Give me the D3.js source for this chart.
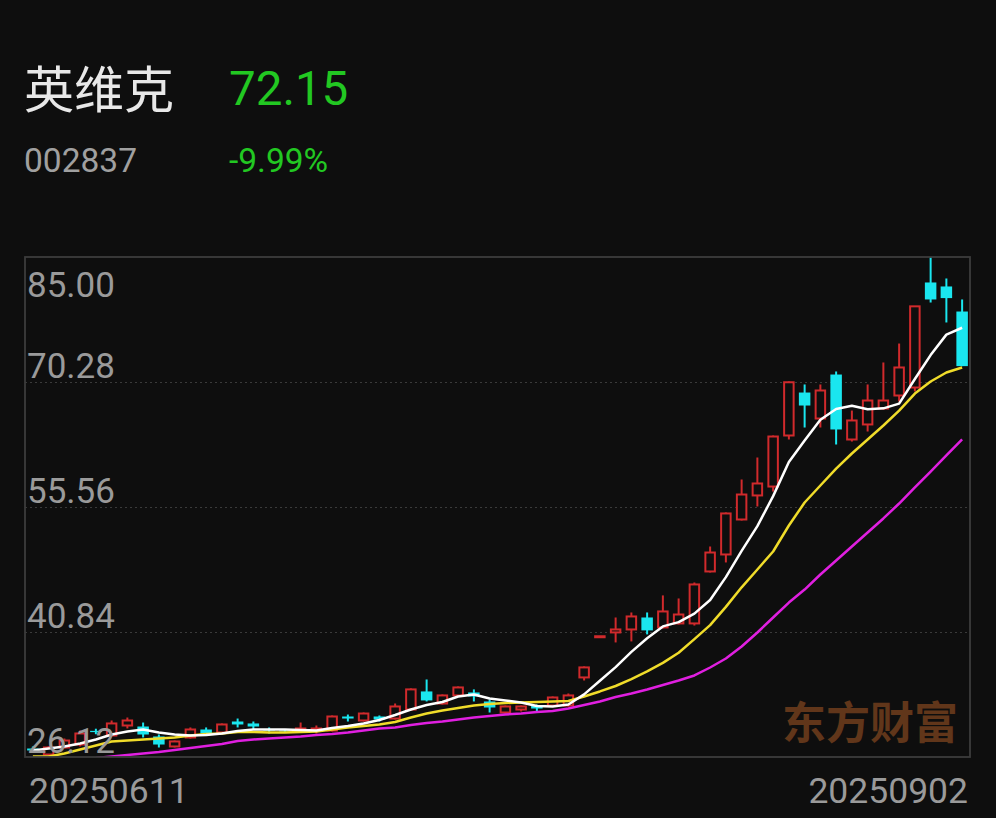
<!DOCTYPE html>
<html><head><meta charset="utf-8">
<script src="https://cdn.jsdelivr.net/npm/d3@7"></script>
<style>html,body{margin:0;padding:0;background:#0e0e0e;} svg{display:block;}</style>
</head><body>
<svg id="c" width="996" height="818"></svg>
<script>
const dates = ["20250611","20250612","20250613","20250616","20250617","20250618","20250619","20250620","20250623","20250624","20250625","20250626","20250627","20250630",
"20250701","20250702","20250703","20250704","20250707","20250708","20250709","20250710","20250711","20250714","20250715","20250716","20250717","20250718","20250721","20250722","20250723","20250724","20250725","20250728","20250729","20250730","20250731",
"20250801","20250804","20250805","20250806","20250807","20250808","20250811","20250812","20250813","20250814","20250815","20250818","20250819","20250820","20250821","20250822","20250825","20250826","20250827","20250828","20250829",
"20250901","20250902"];
const open  = [27.12,26.41,27.24,27.59,29.20,28.65,29.83,29.71,28.54,27.36,28.42,29.36,29.01,30.30,30.07,29.36,29.24,29.36,29.24,29.24,30.89,30.42,30.89,30.65,31.71,33.84,32.42,33.37,33.72,32.66,31.36,31.71,32.18,32.18,32.18,35.49,40.34,40.79,41.14,42.55,41.38,41.85,41.85,47.97,49.97,54.09,56.92,57.97,63.98,69.04,65.98,71.16,63.51,65.28,67.16,68.69,69.63,82.00,81.53,78.58];
const high  = [27.36,27.40,28.30,29.24,29.45,30.42,30.77,30.18,28.77,28.06,29.60,29.60,30.07,30.65,30.30,29.60,29.36,30.18,29.83,31.01,31.12,31.36,31.01,32.42,34.20,35.25,33.49,34.43,34.08,32.89,32.18,32.18,32.30,33.25,33.60,36.79,40.34,42.55,43.14,43.14,45.15,44.79,46.67,50.91,54.92,58.80,61.39,63.98,70.34,69.99,69.99,71.52,66.92,69.99,72.58,74.81,79.19,85.00,82.47,80.00];
const low   = [26.65,26.12,27.12,27.36,28.80,28.54,29.48,28.42,27.24,27.24,28.30,28.65,28.89,29.60,29.36,28.89,29.01,29.13,28.89,29.13,30.30,30.30,30.30,30.54,31.60,32.66,32.30,33.25,32.66,31.36,31.24,31.48,31.48,32.07,32.07,35.13,40.34,39.61,39.73,40.56,41.26,41.73,41.60,47.85,49.03,53.97,55.62,57.38,63.51,64.92,64.92,62.92,63.27,64.45,67.04,67.98,69.17,79.64,77.29,72.15];
const close = [26.89,27.24,28.06,28.89,29.05,30.07,30.42,28.77,27.59,27.95,29.36,28.89,29.95,29.95,29.71,29.24,29.13,29.48,29.48,30.89,30.65,31.24,30.54,32.07,34.08,32.78,33.37,34.31,33.25,31.95,32.07,32.07,31.83,33.13,33.37,36.67,40.34,41.14,42.67,41.03,43.26,42.90,46.44,50.20,54.80,57.03,58.33,63.86,70.25,67.51,69.28,64.69,65.75,68.10,68.10,71.99,79.19,80.00,80.16,72.15];
const ma5  = [26.89,27.12,27.36,27.71,28.18,28.77,29.12,29.36,29.01,28.77,28.65,28.71,28.89,29.18,29.36,29.36,29.36,29.30,29.24,29.54,29.77,30.07,30.48,31.07,31.71,32.24,32.60,33.25,33.48,33.01,32.77,32.54,32.13,32.07,32.30,33.50,35.10,36.70,38.50,40.10,41.50,42.00,43.00,44.60,47.30,50.40,53.30,56.84,60.85,63.39,65.84,67.11,67.49,67.07,67.18,67.73,70.63,73.45,75.86,76.67];
const ma10 = [26.18,26.18,26.53,27.00,27.48,27.95,28.07,28.18,28.30,28.42,28.65,28.83,28.89,29.07,29.07,29.01,29.01,29.07,29.13,29.36,29.60,29.77,29.95,30.24,30.77,31.24,31.60,31.89,32.18,32.36,32.48,32.54,32.60,32.66,32.72,33.25,33.84,34.48,35.30,36.20,37.20,38.40,40.00,41.65,43.80,46.10,48.20,50.32,53.38,56.09,58.09,60.09,61.86,63.51,65.16,66.92,68.92,70.34,71.40,71.99];
const ma20 = [25.47,25.59,25.71,25.89,26.00,26.18,26.36,26.53,26.71,26.95,27.18,27.42,27.65,28.01,28.18,28.30,28.42,28.54,28.71,28.83,29.01,29.24,29.48,29.60,29.89,30.12,30.30,30.54,30.77,30.95,31.13,31.24,31.42,31.54,31.83,32.24,32.66,33.19,33.60,34.07,34.60,35.13,35.72,36.66,37.72,39.13,40.78,42.55,44.31,45.84,47.61,49.26,50.91,52.56,54.21,55.97,57.86,59.74,61.63,63.51];
const yTicks = [85.00, 70.28, 55.56, 40.84, 26.12];
const xTickLabels = ["20250611", "20250902"];
const stockName = "英维克", stockCode = "002837", lastPrice = "72.15", changePct = "-9.99%";
const watermark = "东方财富";

const W = 996, H = 818;
const plot = {left: 25, right: 970, top: 257, bottom: 757};
const BG = "#0e0e0e", RED = "#d02a2c", CYAN = "#1ae6ef", GREEN = "#22c822";
const num = "Roboto, 'Noto Sans', sans-serif";
const cjk = "'Noto Sans CJK SC', 'Noto Sans', sans-serif";

const svg = d3.select("#c");
svg.append("rect").attr("width", W).attr("height", H).attr("fill", BG);

// header
svg.append("text").attr("x", 24).attr("y", 108).attr("font-family", cjk).attr("font-size", 50)
  .attr("fill", "#e8e8e8").text(stockName);
svg.append("text").attr("x", 229).attr("y", 105).attr("font-family", num).attr("font-size", 47.5)
  .attr("fill", GREEN).text(lastPrice);
svg.append("text").attr("x", 24).attr("y", 172).attr("font-family", num).attr("font-size", 33.5)
  .attr("fill", "#a0a0a0").text(stockCode);
svg.append("text").attr("x", 229).attr("y", 172).attr("font-family", num).attr("font-size", 33.5)
  .attr("fill", GREEN).text(changePct);

const x = d3.scaleBand().domain(dates).range([plot.left, plot.right]).paddingInner(0.27).paddingOuter(0.135);
const y = d3.scaleLinear().domain([yTicks[4], yTicks[0]]).range([plot.bottom, plot.top]);
const cx = d => x(d) + x.bandwidth() / 2;

// grid
svg.append("g").selectAll("line").data(yTicks.slice(1, 4)).join("line")
  .attr("x1", plot.left).attr("x2", plot.right)
  .attr("y1", d => Math.round(y(d)) + 0.5).attr("y2", d => Math.round(y(d)) + 0.5)
  .attr("stroke", "#3a3a3a").attr("stroke-width", 1.2).attr("stroke-dasharray", "2,3");

// watermark
svg.append("text").attr("x", 782).attr("y", 739).attr("font-family", cjk).attr("font-weight", 700)
  .attr("font-size", 44).attr("fill", "#61361a").text(watermark);

svg.append("defs").append("clipPath").attr("id", "clip").append("rect")
  .attr("x", plot.left).attr("y", plot.top).attr("width", plot.right - plot.left).attr("height", plot.bottom - plot.top);

const g = svg.append("g").attr("clip-path", "url(#clip)");
const rows = dates.map((d, i) => ({d, o: open[i], h: high[i], l: low[i], c: close[i], up: close[i] > open[i] || (close[i] === open[i] && (i === 0 || close[i] >= close[i - 1]))}));

// wicks
g.selectAll("line.wick").data(rows).join("line").attr("class", "wick")
  .attr("x1", r => cx(r.d)).attr("x2", r => cx(r.d))
  .attr("y1", r => y(r.h)).attr("y2", r => y(r.l) + (r.h === r.l ? 1 : 0))
  .attr("stroke", r => r.up ? RED : CYAN).attr("stroke-width", 2);

// bodies
const bw = x.bandwidth();
g.selectAll("rect.body").data(rows).join("rect").attr("class", "body")
  .attr("x", r => r.up ? x(r.d) + 1 : x(r.d))
  .attr("width", r => r.up ? bw - 2 : bw)
  .attr("y", r => y(Math.max(r.o, r.c)))
  .attr("height", r => Math.max(1, Math.abs(y(r.o) - y(r.c))))
  .attr("fill", r => r.up ? BG : CYAN)
  .attr("stroke", r => r.up ? RED : "none")
  .attr("stroke-width", 2);

// moving averages
const line = d3.line().x((v, i) => cx(dates[i])).y(v => y(v));
[[ma20, "#e01fe0"], [ma10, "#f0dc2a"], [ma5, "#ffffff"]].forEach(([s, col]) => {
  g.append("path").datum(s).attr("d", line).attr("fill", "none")
    .attr("stroke", col).attr("stroke-width", 2.5).attr("stroke-linejoin", "round");
});

// border
svg.append("rect").attr("x", plot.left).attr("y", plot.top)
  .attr("width", plot.right - plot.left).attr("height", plot.bottom - plot.top)
  .attr("fill", "none").attr("stroke", "#3c3c3c").attr("stroke-width", 1.8);

// y labels
svg.append("g").selectAll("text").data(yTicks).join("text")
  .attr("x", 27).attr("y", (d, i) => i === 0 ? y(d) + 40 : y(d) - 4)
  .attr("font-family", num).attr("font-size", 35).attr("fill", "#9a9a9a")
  .text(d => d.toFixed(2));

// x labels
svg.append("text").attr("x", 29).attr("y", 803).attr("font-family", num).attr("font-size", 35.5)
  .attr("fill", "#9a9a9a").text(xTickLabels[0]);
svg.append("text").attr("x", 968).attr("y", 803).attr("text-anchor", "end").attr("font-family", num).attr("font-size", 35.5)
  .attr("fill", "#9a9a9a").text(xTickLabels[1]);
</script>
</body></html>
